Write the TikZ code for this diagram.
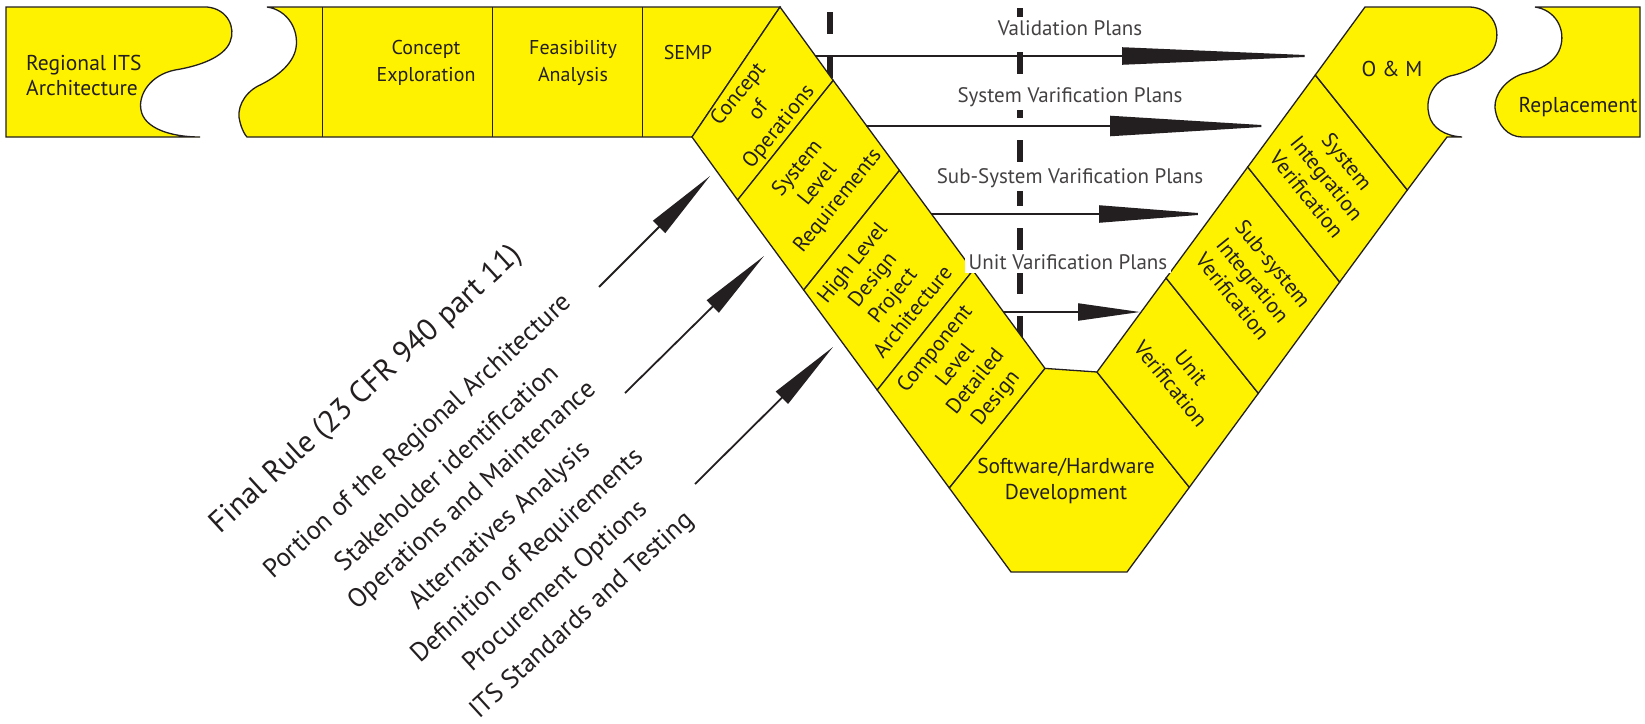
\documentclass[tikz,border=0pt]{standalone}
\usepackage{fontspec}
\setmainfont{PT Sans}
\usetikzlibrary{arrows.meta}
\definecolor{vyellow}{RGB}{255,242,0}
\definecolor{ink}{RGB}{35,31,32}
\begin{document}
\begin{tikzpicture}[x=1pt,y=-1pt,
  blk/.style={fill=vyellow,draw=ink,line width=1.3pt,line join=miter},
  divider/.style={draw=ink,line width=1pt},
  txt/.style={font=\fontsize{21.5}{26}\selectfont,text=ink,align=center,inner sep=0pt},
  bartxt/.style={font=\fontsize{20}{27}\selectfont,text=ink,align=center,inner sep=0pt},
  lbl/.style={font=\fontsize{21}{24}\selectfont,text=ink!85,fill=white,inner sep=3.5pt},
  rulebig/.style={font=\fontsize{30.5}{34}\selectfont,text=ink,rotate=42.5,inner sep=0pt},
  rulesm/.style={font=\fontsize{26.5}{30}\selectfont,text=ink,rotate=42.5,inner sep=0pt},
  dashline/.style={draw=ink,line width=6pt,dash pattern=on 22pt off 22pt},
  harrow/.style={draw=ink,line width=2pt},
  darrow/.style={draw=ink,line width=1.8pt,-{Triangle[length=72pt,width=17pt]}}
]
\useasboundingbox (0,0) rectangle (1645,723);
\fill[white] (0,0) rectangle (1645,723);

% dashed vertical lines (behind everything)
\draw[dashline] (1020,8) -- (1020,340);
\draw[dashline] (830,12) -- (830,100);

% top bar: regional ITS piece
\draw[blk] (6,7) -- (207,7) .. controls (228,9) and (236,28) .. (230,42)
  .. controls (224,57) and (200,66) .. (175,70)
  .. controls (150,75) and (138,95) .. (141,110)
  .. controls (144,128) and (170,137) .. (200,137) -- (6,137) -- cycle;
% top bar: main strip
\draw[blk] (780,7) -- (267,7) .. controls (288,10) and (299,30) .. (296,48)
  .. controls (293,65) and (275,78) .. (258,86)
  .. controls (243,94) and (236,110) .. (240,122)
  .. controls (242,130) and (245,135) .. (247,137) -- (692,137) -- cycle;
\draw[divider] (322,7) -- (322,137);
\draw[divider] (492,7) -- (492,137);
\draw[divider] (642,7) -- (642,137);

% left arm
\draw[blk] (692,137) -- (780,7) -- (833.2,80.4) -- (737.6,200) -- cycle;
\draw[blk] (737.6,200) -- (833.2,80.4) -- (899.4,170.4) -- (803.7,290) -- cycle;
\draw[blk] (803.7,290) -- (899.4,170.4) -- (972.9,270.4) -- (877.2,390) -- cycle;
\draw[blk] (877.2,390) -- (972.9,270.4) -- (1045,368.4) -- (949.3,488) -- cycle;
% bottom hexagon
\draw[blk] (949.3,488) -- (1045,368.4) -- (1097,372) -- (1189.3,487.3) -- (1127,572) -- (1011,572) -- cycle;
% right arm
\draw[blk] (1097,372) -- (1166.1,278) -- (1258.3,393.3) -- (1189.3,487.3) -- cycle;
\draw[blk] (1166.1,278) -- (1247.7,167) -- (1339.7,282) -- (1258.3,393.3) -- cycle;
\draw[blk] (1247.7,167) -- (1315.3,75) -- (1407.3,190) -- (1339.7,282) -- cycle;
\draw[blk] (1315.3,75) -- (1365,7) -- (1470,7) .. controls (1490,8) and (1500,25) .. (1496,42)
  .. controls (1492,60) and (1470,72) .. (1450,76)
  .. controls (1432,82) and (1425,100) .. (1429,115)
  .. controls (1432,128) and (1445,136) .. (1462,137) -- (1447,137) -- (1407.3,190) -- cycle;
% replacement
\draw[blk] (1535,7) .. controls (1555,10) and (1565,28) .. (1561,45)
  .. controls (1557,62) and (1540,70) .. (1522,74)
  .. controls (1505,80) and (1494,95) .. (1495,108)
  .. controls (1497,125) and (1508,137) .. (1522,137) -- (1640,137) -- (1640,7) -- cycle;

% block texts
\node[bartxt,font=\fontsize{21.5}{25}\selectfont,anchor=west,align=left] (regional) at (26,75) {Regional ITS\\Architecture};
\node[bartxt] (concept) at (426,63) {Concept\\Exploration};
\node[bartxt] (feas) at (573,63) {Feasibility\\Analysis};
\node[bartxt] (semp) at (688,52) {SEMP};
\node[txt,rotate=51] (conops) at (759,111) {Concept\\of\\Operations};
\node[txt,rotate=51] (syslev) at (818,185) {System\\Level\\Requirements};
\node[txt,rotate=51] (highlev) at (882,287) {High Level\\Design\\Project\\Architecture};
\node[txt,rotate=51] (comp) at (966,374) {Component\\Level\\Detailed\\Design};
\node[txt] (swhw) at (1066,481) {Software/Hardware\\Development};
\node[txt,rotate=-51] (unitv) at (1181,376) {Unit\\Verification};
\node[txt,rotate=-51] (subv) at (1253,280) {Sub-system\\Integration\\Verification};
\node[txt,rotate=-51] (sysint) at (1327,178) {System\\Integration\\Verification};
\node[txt] (om) at (1392,69) {O \& M};
\node[txt] (repl) at (1578,107) {Replacement};

% horizontal arrows
\coordinate (a1s) at (814.5,56);  \coordinate (a1e) at (1329,56);
\coordinate (a2s) at (866,126);   \coordinate (a2e) at (1278,126);
\coordinate (a3s) at (931,214);   \coordinate (a3e) at (1211,214);
\coordinate (a4s) at (1003,312);  \coordinate (a4e) at (1140,312);
\draw[harrow,-{Triangle[length=207pt,width=17pt]}] (a1s) -- (a1e);
\draw[harrow,-{Triangle[length=168pt,width=20pt]}] (a2s) -- (a2e);
\draw[harrow,-{Triangle[length=112pt,width=17pt]}] (a3s) -- (a3e);
\draw[harrow,-{Triangle[length=62pt,width=17pt]}] (a4s) -- (a4e);

% diagonal arrows
\coordinate (b1s) at (599,287); \coordinate (b1e) at (710,176);
\coordinate (b2s) at (625,393); \coordinate (b2e) at (764,256);
\coordinate (b3s) at (695,484); \coordinate (b3e) at (833,347);
\draw[darrow] (b1s) -- (b1e);
\draw[darrow] (b2s) -- (b2e);
\draw[darrow] (b3s) -- (b3e);

% plan labels
\node[lbl] (vp) at (1070,28) {Validation Plans};
\node[lbl] (svp) at (1070,97) {System Varification Plans};
\node[lbl] (ssvp) at (1070,178) {Sub-System Varification Plans};
\node[lbl] (uvp) at (1068,262) {Unit Varification Plans};

% final rule list
\node[rulebig] (fr) at (367,390) {Final Rule (23 CFR 940 part 11)};
\node[rulesm] (r1) at (418.6,437.1) {Portion of the Regional Architecture};
\node[rulesm] (r2) at (446.1,467.1) {Stakeholder identification};
\node[rulesm] (r3) at (472.7,496) {Operations and Maintenance};
\node[rulesm] (r4) at (500.4,526.3) {Alternatives Analysis};
\node[rulesm] (r5) at (528.1,556.5) {Definition of Requirements};
\node[rulesm] (r6) at (555.8,586.7) {Procurement Options};
\node[rulesm] (r7) at (582.5,615.9) {ITS Standards and Testing};
\end{tikzpicture}
\end{document}
